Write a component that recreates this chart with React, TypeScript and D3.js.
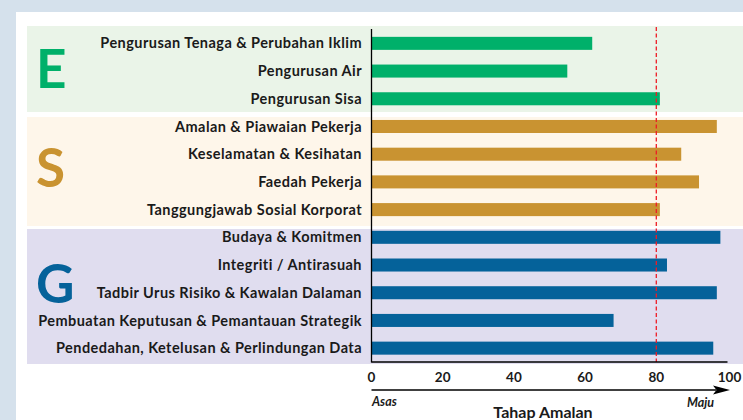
import React from "react";
import * as d3 from "d3";

const categories = [
  "Pengurusan Tenaga & Perubahan Iklim",
  "Pengurusan Air",
  "Pengurusan Sisa",
  "Amalan & Piawaian Pekerja",
  "Keselamatan & Kesihatan",
  "Faedah Pekerja",
  "Tanggungjawab Sosial Korporat",
  "Budaya & Komitmen",
  "Integriti / Antirasuah",
  "Tadbir Urus Risiko & Kawalan Dalaman",
  "Pembuatan Keputusan & Pemantauan Strategik",
  "Pendedahan, Ketelusan & Perlindungan Data",
];
const values = [62, 55, 81, 97, 87, 92, 81, 98, 83, 97, 68, 96];
const groups = ["E", "E", "E", "S", "S", "S", "S", "G", "G", "G", "G", "G"];
const groupNames = ["E", "S", "G"];
const xTicks = [0, 20, 40, 60, 80, 100];
const threshold = 80;
const xTitle = "Tahap Amalan";
const leftNote = "Asas";
const rightNote = "Maju";

const barColor: Record<string, string> = { E: "#00b06a", S: "#c99331", G: "#05629a" };
const bandColor: Record<string, string> = { E: "#eaf4e8", S: "#fef6ea", G: "#e0ddef" };
const bandExtent: Record<string, [number, number]> = {
  E: [26, 112],
  S: [117, 226],
  G: [229, 364],
};
const letterCenter: Record<string, number> = { E: 69, S: 168, G: 284 };

const FONT = "Lato, 'Open Sans', sans-serif";

export default function App() {
  const W = 743, H = 420;
  const x = d3.scaleLinear().domain([0, 100]).range([371.5, 727.5]);
  const y = d3.scaleBand<string>().domain(categories).range([29.5, 362]).paddingInner(0.53).paddingOuter(0.265);
  return (
    <svg width={W} height={H} style={{ position: "absolute", left: 0, top: 0, display: "block" }} fontFamily={FONT}>
      <rect x={0} y={0} width={W} height={H} fill="#d5e1ec" />
      <rect x={16} y={12} width={W - 16} height={H - 12} fill="#ffffff" />
      {groupNames.map((g) => {
        const [y0, y1] = bandExtent[g];
        return (
          <g key={g}>
            <rect x={27} y={y0} width={W - 27} height={y1 - y0} fill={bandColor[g]} />
            <text x={36} y={letterCenter[g]} dy="0.36em" fontSize={53} fontWeight={700} fill={barColor[g]}>
              {g}
            </text>
          </g>
        );
      })}
      {categories.map((c, i) => (
        <g key={c}>
          <rect x={x(0)} y={y(c)!} width={x(values[i]) - x(0)} height={y.bandwidth()} fill={barColor[groups[i]]} />
          <text x={362} y={y(c)! + y.bandwidth() / 2} dy="0.35em" textAnchor="end" fontSize={14.5} letterSpacing={0.45} fontWeight={700} fill="#1a1a1a">
            {c}
          </text>
        </g>
      ))}
      <line x1={x(threshold)} x2={x(threshold)} y1={27} y2={362} stroke="#ee1c25" strokeWidth={1.3} strokeDasharray="4,2.5" />
      <line x1={x(0)} x2={x(0)} y1={29} y2={362.5} stroke="#000" strokeWidth={1.3} />
      <line x1={x(0)} x2={x(100)} y1={362} y2={362} stroke="#000" strokeWidth={1.3} />
      {xTicks.map((t) => (
        <text key={t} x={x(t) + (t === 100 ? 2 : 0)} y={377} dy="0.35em" textAnchor="middle" fontSize={13.5} fontWeight={700} fill="#1a1a1a">
          {t}
        </text>
      ))}
      <line x1={x(0)} x2={716} y1={390} y2={390} stroke="#000" strokeWidth={1.3} />
      <path d="M730,390 L713,385.5 L716.5,390 L713,394.5 Z" fill="#000" />
      <text x={372} y={402} dy="0.35em" fontSize={12.5} fontWeight={700} fontStyle="italic" fill="#1a1a1a">
        {leftNote}
      </text>
      <text x={714} y={403} dy="0.35em" textAnchor="end" fontSize={12.5} fontWeight={700} fontStyle="italic" fill="#1a1a1a">
        {rightNote}
      </text>
      <text x={543} y={412} dy="0.35em" textAnchor="middle" fontSize={16} fontWeight={700} fill="#1a1a1a">
        {xTitle}
      </text>
    </svg>
  );
}
